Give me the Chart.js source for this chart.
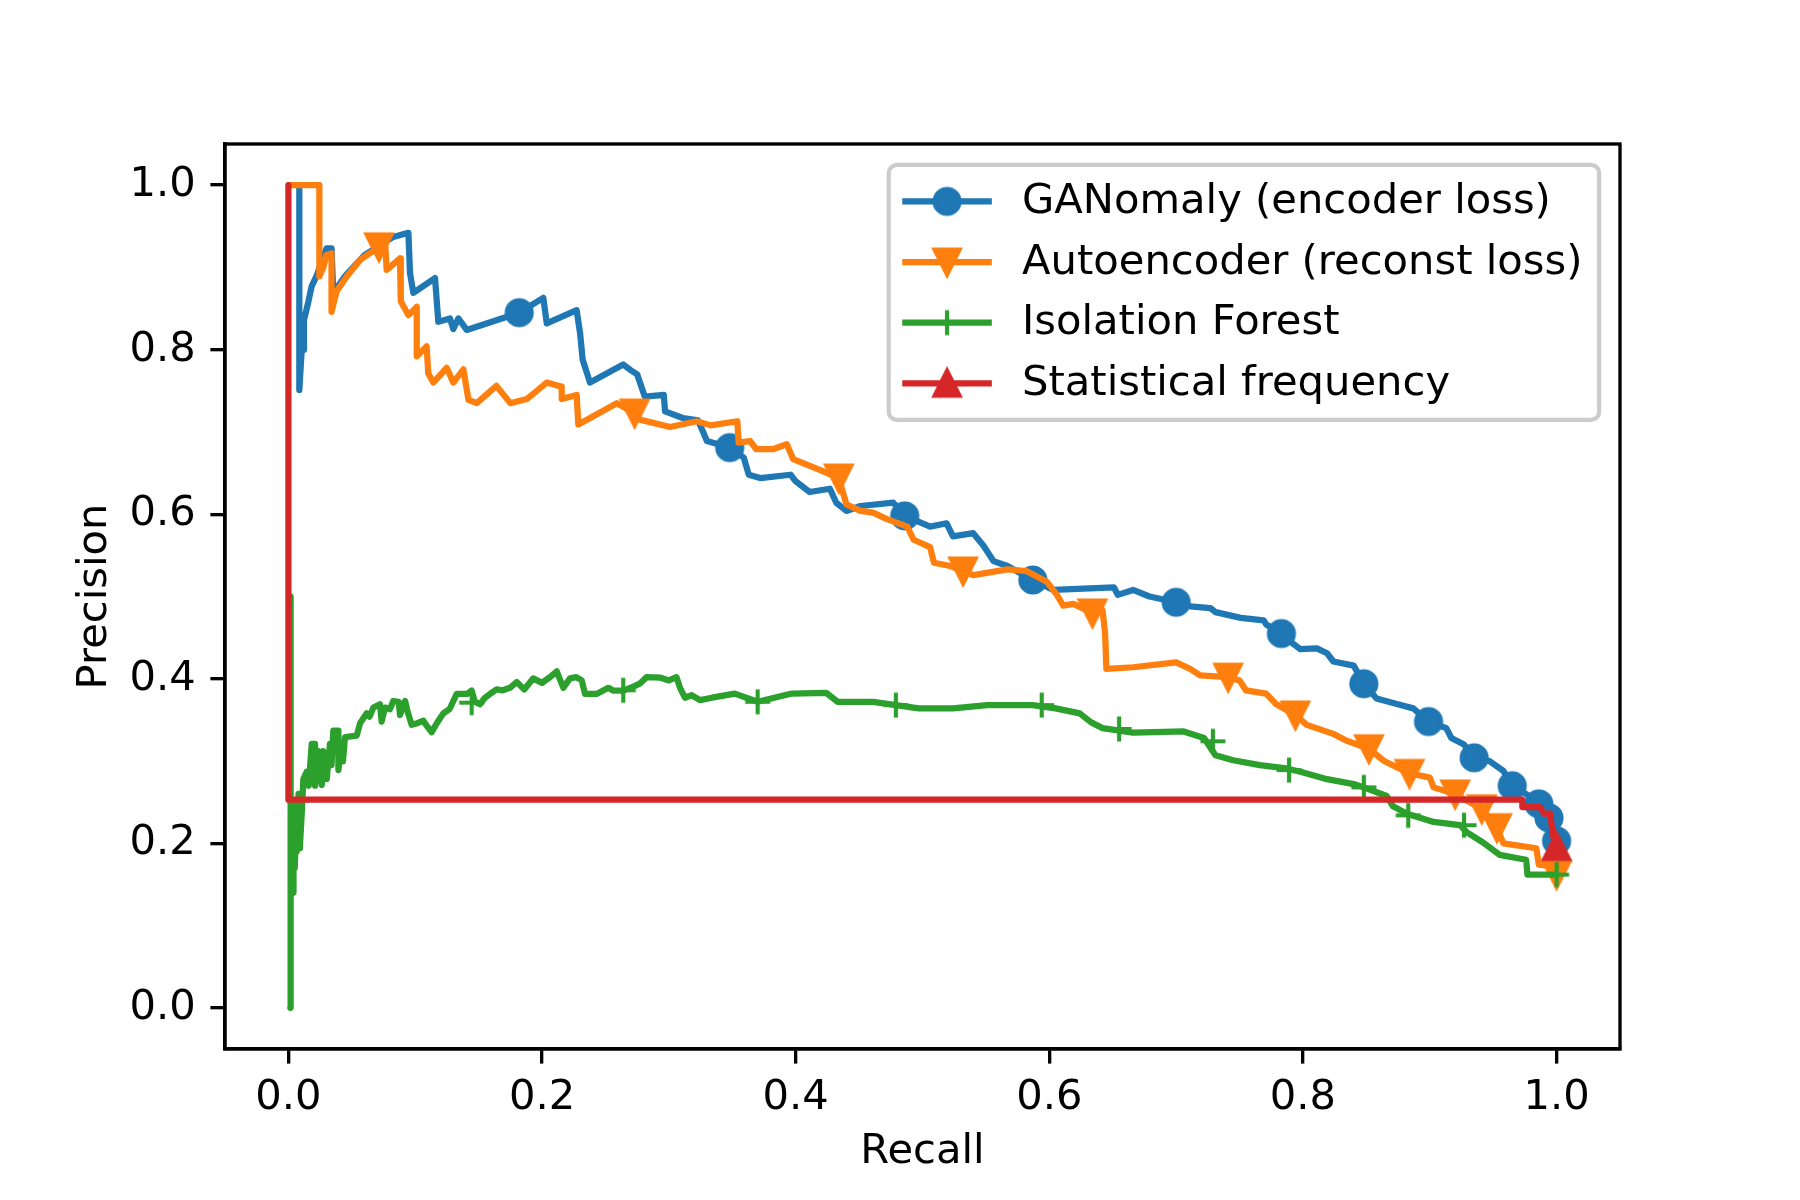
<!DOCTYPE html>
<html>
<head>
<meta charset="utf-8">
<title>Precision-Recall</title>
<script src="https://cdn.jsdelivr.net/npm/chart.js@4.4.1/dist/chart.umd.min.js"></script>
<style>
  html, body { margin: 0; padding: 0; background: #ffffff; }
  #wrap { width: 1800px; height: 1200px; }
</style>
</head>
<body>
<div id="wrap"><canvas id="prChart" width="1800" height="1200"></canvas></div>
<script>
// ---------------------------------------------------------------------------
// Datos: curvas precision / recall  [recall, precision]
// ---------------------------------------------------------------------------
const seriesNames = [
    "GANomaly (encoder loss)",
    "Autoencoder (reconst loss)",
    "Isolation Forest",
    "Statistical frequency"
];

const ganomalyPR = [
    [0.0086,1.0],[0.0086,0.751],[0.0105,0.80],[0.0123,0.80],[0.0123,0.836],[0.0157,0.858],
    [0.0183,0.877],[0.0223,0.89],[0.030,0.923],[0.034,0.923],[0.0354,0.869],[0.045,0.89],
    [0.06,0.915],[0.0827,0.937],[0.0946,0.942],[0.0959,0.893],[0.0985,0.869],[0.1156,0.887],
    [0.1182,0.834],[0.1274,0.838],[0.130,0.825],[0.134,0.838],[0.1406,0.824],[0.182,0.845],
    [0.201,0.863],[0.2037,0.832],[0.2273,0.848],[0.230,0.820],[0.232,0.788],[0.2378,0.760],
    [0.264,0.782],[0.270,0.775],[0.275,0.770],[0.281,0.743],[0.296,0.745],[0.297,0.725],
    [0.311,0.717],[0.323,0.714],[0.327,0.700],[0.330,0.689],[0.348,0.681],[0.359,0.669],
    [0.363,0.648],[0.372,0.644],[0.396,0.648],[0.400,0.640],[0.411,0.627],[0.427,0.631],
    [0.432,0.614],[0.440,0.604],[0.451,0.610],[0.477,0.614],[0.486,0.598],[0.506,0.585],
    [0.519,0.589],[0.524,0.573],[0.540,0.577],[0.548,0.562],[0.556,0.543],[0.567,0.537],
    [0.587,0.520],[0.603,0.508],[0.651,0.511],[0.654,0.502],[0.666,0.508],[0.679,0.500],
    [0.700,0.493],[0.711,0.488],[0.727,0.486],[0.731,0.481],[0.751,0.474],[0.769,0.471],
    [0.771,0.466],[0.783,0.455],[0.792,0.443],[0.798,0.436],[0.811,0.437],[0.819,0.431],
    [0.824,0.421],[0.840,0.416],[0.848,0.394],[0.858,0.376],[0.877,0.368],[0.887,0.364],
    [0.899,0.348],[0.913,0.340],[0.917,0.328],[0.927,0.320],[0.935,0.304],[0.947,0.300],
    [0.958,0.288],[0.965,0.270],[0.979,0.257],[0.986,0.248],[0.994,0.231],[1.0,0.203]
];
const ganomalyMarks = [
    [0.182,0.845],[0.348,0.681],[0.486,0.598],[0.587,0.520],[0.700,0.493],[0.783,0.455],
    [0.848,0.394],[0.899,0.348],[0.935,0.304],[0.965,0.270],[0.986,0.248],[0.994,0.231],[1.0,0.203]
];

const autoencoderPR = [
    [0.001,1.0],[0.0244,1.0],[0.0244,0.889],[0.0275,0.900],[0.030,0.915],[0.034,0.917],
    [0.034,0.846],[0.038,0.871],[0.046,0.889],[0.0565,0.909],[0.0714,0.925],[0.076,0.937],
    [0.0775,0.897],[0.088,0.911],[0.0886,0.859],[0.0946,0.842],[0.1012,0.852],[0.1012,0.792],
    [0.109,0.804],[0.1103,0.771],[0.1142,0.760],[0.1248,0.778],[0.130,0.760],[0.138,0.776],
    [0.142,0.739],[0.1485,0.735],[0.164,0.756],[0.175,0.735],[0.188,0.740],[0.2037,0.760],
    [0.2155,0.755],[0.2155,0.740],[0.2273,0.745],[0.2286,0.709],[0.259,0.735],[0.273,0.723],
    [0.277,0.715],[0.301,0.706],[0.322,0.713],[0.333,0.708],[0.354,0.713],[0.355,0.687],
    [0.364,0.689],[0.369,0.679],[0.382,0.679],[0.393,0.685],[0.398,0.667],[0.419,0.654],
    [0.434,0.644],[0.440,0.612],[0.451,0.604],[0.461,0.602],[0.472,0.594],[0.488,0.585],
    [0.493,0.569],[0.506,0.560],[0.509,0.541],[0.522,0.537],[0.532,0.531],[0.540,0.526],
    [0.567,0.533],[0.582,0.531],[0.598,0.518],[0.606,0.502],[0.611,0.489],[0.619,0.491],
    [0.634,0.480],[0.642,0.483],[0.644,0.455],[0.645,0.412],[0.666,0.414],[0.700,0.420],
    [0.711,0.412],[0.719,0.404],[0.741,0.402],[0.750,0.398],[0.755,0.386],[0.771,0.382],
    [0.779,0.369],[0.794,0.356],[0.803,0.344],[0.824,0.333],[0.834,0.325],[0.852,0.315],
    [0.864,0.300],[0.884,0.285],[0.900,0.280],[0.903,0.268],[0.920,0.260],[0.929,0.252],
    [0.941,0.242],[0.953,0.219],[0.958,0.200],[0.984,0.194],[0.986,0.174],[0.998,0.172],[1.0,0.162]
];
const autoencoderMarks = [
    [0.0714,0.925],[0.273,0.723],[0.434,0.644],[0.532,0.531],[0.634,0.480],[0.741,0.402],
    [0.794,0.356],[0.852,0.315],[0.884,0.285],[0.920,0.260],[0.941,0.242],[0.953,0.219],[1.0,0.162]
];

const isoForestPR = [
    [0.0015,0.0],[0.0015,0.50],[0.002,0.15],[0.004,0.14],[0.004,0.25],[0.005,0.17],
    [0.006,0.22],[0.0065,0.19],[0.008,0.26],[0.009,0.194],[0.0105,0.236],[0.0118,0.278],
    [0.0144,0.287],[0.016,0.27],[0.0184,0.321],[0.021,0.321],[0.021,0.27],[0.0236,0.312],
    [0.0263,0.271],[0.0275,0.312],[0.0302,0.278],[0.0328,0.321],[0.034,0.295],[0.0354,0.337],
    [0.0394,0.337],[0.0394,0.289],[0.042,0.321],[0.043,0.2995],[0.0446,0.329],[0.0539,0.331],
    [0.0565,0.346],[0.0617,0.358],[0.064,0.354],[0.067,0.365],[0.0722,0.369],[0.0735,0.348],
    [0.0762,0.365],[0.080,0.363],[0.0827,0.373],[0.087,0.372],[0.088,0.356],[0.092,0.373],
    [0.094,0.36],[0.0972,0.344],[0.1015,0.346],[0.1064,0.349],[0.109,0.343],[0.113,0.335],
    [0.117,0.346],[0.1222,0.358],[0.127,0.363],[0.1327,0.3816],[0.141,0.3816],[0.1445,0.3857],
    [0.147,0.372],[0.151,0.369],[0.155,0.377],[0.159,0.3816],[0.164,0.387],[0.169,0.386],
    [0.1747,0.389],[0.180,0.396],[0.186,0.387],[0.193,0.4005],[0.200,0.395],[0.2063,0.402],
    [0.2116,0.409],[0.2168,0.389],[0.222,0.4005],[0.227,0.402],[0.2313,0.398],[0.2339,0.3816],
    [0.243,0.3816],[0.2523,0.389],[0.256,0.3857],[0.264,0.3857],[0.272,0.3905],[0.277,0.394],
    [0.2825,0.402],[0.293,0.4015],[0.300,0.398],[0.306,0.402],[0.3088,0.389],[0.3127,0.377],
    [0.318,0.380],[0.3246,0.374],[0.334,0.377],[0.352,0.382],[0.370,0.372],[0.397,0.382],
    [0.424,0.383],[0.433,0.372],[0.461,0.372],[0.479,0.368],[0.497,0.364],[0.524,0.364],
    [0.551,0.368],[0.587,0.368],[0.605,0.364],[0.624,0.358],[0.633,0.347],[0.642,0.340],
    [0.666,0.3345],[0.706,0.336],[0.722,0.328],[0.731,0.307],[0.745,0.301],[0.766,0.295],
    [0.787,0.291],[0.798,0.287],[0.819,0.278],[0.840,0.272],[0.848,0.268],[0.866,0.2575],
    [0.871,0.245],[0.882,0.236],[0.903,0.226],[0.924,0.222],[0.929,0.2135],[0.942,0.201],
    [0.955,0.186],[0.976,0.180],[0.977,0.162],[1.0,0.162]
];
const isoForestMarks = [
    [0.1445,0.371],[0.264,0.386],[0.370,0.372],[0.479,0.368],[0.594,0.368],[0.655,0.339],
    [0.729,0.324],[0.789,0.289],[0.848,0.268],[0.883,0.234],[0.927,0.222],[1.0,0.162]
];

const statFreqPR = [
    [0.0,1.0],[0.0,0.253],[0.973,0.253],[0.973,0.244],[0.987,0.244],[0.990,0.236],
    [0.995,0.236],[0.997,0.210],[1.0,0.196]
];
const statFreqMarks = [[1.0,0.196]];

const xTicks = [0.0, 0.2, 0.4, 0.6, 0.8, 1.0];
const yTicks = [0.0, 0.2, 0.4, 0.6, 0.8, 1.0];

// ---------------------------------------------------------------------------
// Estilo (figura matplotlib 6x4 in a 300 dpi)
// ---------------------------------------------------------------------------
const colors = ["#1f77b4", "#ff7f0e", "#2ca02c", "#d62728"];
const FONT = "DejaVu Sans";
const FS = 41.67;        // 10 pt
const LW = 6.25;         // 1.5 pt
const AXW = 3.33;        // 0.8 pt
const TICK = 14.6;       // 3.5 pt

// marcadores dibujados en un canvas para imitar las formas de matplotlib
function markerCanvas(kind, color) {
    const size = 44;
    const c = document.createElement("canvas");
    c.width = size;
    c.height = size;
    const g = c.getContext("2d");
    const m = size / 2, h = 12.5;
    g.fillStyle = color;
    g.strokeStyle = color;
    g.lineWidth = 4.17;
    g.lineJoin = "miter";
    g.beginPath();
    if (kind === "plus") {
        g.lineCap = "butt";
        g.moveTo(m - h, m); g.lineTo(m + h, m);
        g.moveTo(m, m - h); g.lineTo(m, m + h);
        g.stroke();
        return c;
    }
    if (kind === "circle") {
        g.arc(m, m, h, 0, Math.PI * 2);
    } else if (kind === "down") {
        g.moveTo(m - h, m - h); g.lineTo(m + h, m - h); g.lineTo(m, m + h); g.closePath();
    } else {
        g.moveTo(m - h, m + h); g.lineTo(m + h, m + h); g.lineTo(m, m - h); g.closePath();
    }
    g.fill();
    g.stroke();
    return c;
}

const markers = [
    markerCanvas("circle", colors[0]),
    markerCanvas("down", colors[1]),
    markerCanvas("plus", colors[2]),
    markerCanvas("up", colors[3])
];

const toXY = pts => pts.map(p => ({ x: p[0], y: p[1] }));

function lineSet(i, pts) {
    return {
        label: seriesNames[i],
        data: toXY(pts),
        showLine: true,
        borderColor: colors[i],
        borderWidth: LW,
        borderJoinStyle: "round",
        borderCapStyle: "round",
        pointRadius: 0,
        fill: false,
        order: 20 - i * 2
    };
}

function markSet(i, pts) {
    return {
        label: seriesNames[i] + " markers",
        data: toXY(pts),
        showLine: false,
        pointStyle: markers[i],
        pointRadius: 12,
        order: 19 - i * 2
    };
}

// marco completo (spines arriba y derecha)
const framePlugin = {
    id: "frame",
    afterDatasetsDraw(chart) {
        const a = chart.chartArea, ctx = chart.ctx;
        ctx.save();
        ctx.strokeStyle = "#000";
        ctx.lineWidth = AXW;
        ctx.strokeRect(a.left, a.top, a.right - a.left, a.bottom - a.top);
        ctx.restore();
    }
};

// leyenda estilo matplotlib, esquina superior derecha
const legendPlugin = {
    id: "mplLegend",
    afterDraw(chart) {
        const a = chart.chartArea, ctx = chart.ctx;
        ctx.save();
        ctx.font = FS + "px '" + FONT + "'";
        let textW = 0;
        seriesNames.forEach(n => { textW = Math.max(textW, ctx.measureText(n).width); });
        const pad = 0.4 * FS, handleLen = 2.0 * FS, handleGap = 0.8 * FS;
        const rowH = 39.8, rowGap = 0.5 * FS;
        const w = pad * 2 + handleLen + handleGap + textW;
        const h = pad * 2 + rowH * 4 + rowGap * 3;
        const right = a.right - 0.5 * FS, top = a.top + 0.5 * FS;
        const left = right - w;

        ctx.beginPath();
        ctx.roundRect(left, top, w, h, 0.2 * FS);
        ctx.fillStyle = "rgba(255,255,255,0.8)";
        ctx.fill();
        ctx.strokeStyle = "#cccccc";
        ctx.lineWidth = 4.17;
        ctx.stroke();

        seriesNames.forEach((name, i) => {
            const cy = top + pad + rowH / 2 + i * (rowH + rowGap);
            const x0 = left + pad;
            ctx.beginPath();
            ctx.strokeStyle = colors[i];
            ctx.lineWidth = LW;
            ctx.lineCap = "square";
            ctx.moveTo(x0, cy);
            ctx.lineTo(x0 + handleLen, cy);
            ctx.stroke();
            const mk = markers[i];
            ctx.drawImage(mk, x0 + handleLen / 2 - mk.width / 2, cy - mk.height / 2);
            ctx.fillStyle = "#000";
            ctx.textBaseline = "middle";
            ctx.textAlign = "left";
            ctx.fillText(name, x0 + handleLen + handleGap, cy + 1);
        });
        ctx.restore();
    }
};

const tickFont = { family: FONT, size: FS };

const ctxPR = document.getElementById("prChart").getContext("2d");
const prChart = new Chart(ctxPR, {
    type: "scatter",
    data: {
        datasets: [
            lineSet(0, ganomalyPR), markSet(0, ganomalyMarks),
            lineSet(1, autoencoderPR), markSet(1, autoencoderMarks),
            lineSet(2, isoForestPR), markSet(2, isoForestMarks),
            lineSet(3, statFreqPR), markSet(3, statFreqMarks)
        ]
    },
    options: {
        responsive: false,
        devicePixelRatio: 1,
        animation: false,
        events: [],
        layout: { padding: { left: 0, right: 180, top: 144, bottom: 0 } },
        plugins: {
            legend: { display: false },
            tooltip: { enabled: false }
        },
        scales: {
            x: {
                type: "linear",
                min: -0.05,
                max: 1.05,
                afterBuildTicks: s => { s.ticks = xTicks.map(v => ({ value: v })); },
                afterFit: s => { s.height = 151; },
                ticks: {
                    callback: v => v.toFixed(1),
                    color: "#000",
                    font: tickFont,
                    padding: 10,
                    maxRotation: 0,
                    autoSkip: false
                },
                grid: { drawOnChartArea: false, drawTicks: true, tickLength: TICK, color: "#000", lineWidth: AXW },
                border: { display: true, color: "#000", width: AXW },
                title: { display: true, text: "Recall", color: "#000", font: tickFont, padding: { top: 0, bottom: 23 } }
            },
            y: {
                type: "linear",
                min: -0.05,
                max: 1.05,
                afterBuildTicks: s => { s.ticks = yTicks.map(v => ({ value: v })); },
                afterFit: s => { s.width = 225; },
                ticks: {
                    callback: v => v.toFixed(1),
                    color: "#000",
                    font: tickFont,
                    padding: TICK,
                    autoSkip: false
                },
                grid: { drawOnChartArea: false, drawTicks: true, tickLength: TICK, color: "#000", lineWidth: AXW },
                border: { display: true, color: "#000", width: AXW },
                title: { display: true, text: "Precision", color: "#000", font: tickFont, padding: { top: 70, bottom: 0 } }
            }
        }
    },
    plugins: [framePlugin, legendPlugin]
});
</script>
</body>
</html>
